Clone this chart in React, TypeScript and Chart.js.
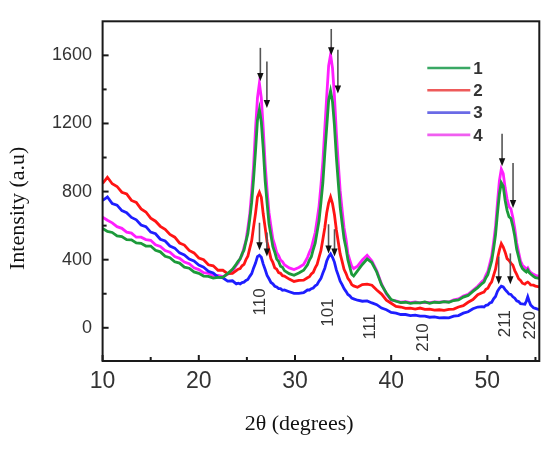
import React, { useEffect, useRef } from "react";
import { Chart, registerables } from "chart.js";

Chart.register(...registerables);

// 2θ positions (degrees)
const twoTheta = [
  10, 10.5, 11, 11.5, 12, 12.5, 13, 13.5, 14, 14.5, 15, 15.5, 16, 16.5, 17, 17.5, 18, 18.5, 19, 19.5, 20, 20.5, 21, 21.5, 22, 22.5, 23, 23.5,
  23.9, 24.1, 24.3, 24.5, 24.7, 24.9, 25.1, 25.3, 25.5, 25.7, 25.9, 26.1, 26.3, 26.5, 26.7, 26.9, 27.1, 27.3, 27.5, 27.7, 27.9, 28.1, 28.3, 28.5, 28.7, 28.9,
  29.4, 29.9, 30.4, 30.9,
  31.3, 31.5, 31.7, 31.9, 32.1, 32.3, 32.5, 32.7, 32.9, 33.1, 33.3, 33.5, 33.7, 33.9, 34.1, 34.3, 34.5, 34.7, 34.9, 35.1, 35.3, 35.5, 35.7, 35.9, 36.1,
  36.5, 37, 37.5, 38, 38.5, 39, 39.5, 40, 40.5, 41, 41.5, 42, 42.5, 43, 43.5, 44, 44.5, 45, 45.5, 46, 46.5, 47, 47.5, 48, 48.5, 49,
  49.45, 49.65, 49.85, 50.05, 50.25, 50.45, 50.65, 50.85, 51.05, 51.25, 51.45, 51.65, 51.85, 52.05, 52.25, 52.45, 52.65, 52.85, 53.05, 53.25, 53.45, 53.65,
  53.9, 54.05, 54.2, 54.35, 54.5, 54.8, 55.0, 55.4,
];

// sample 1 (green)
const series1 = [
  584, 566, 560, 540, 536, 518, 516, 498, 496, 480, 480, 455, 446, 420, 412, 388, 380, 356, 350, 328, 320, 304, 302, 292, 296, 296, 318, 344,
  374, 392, 404, 434, 456, 506, 552, 640, 738, 878, 1040, 1220, 1282, 1208, 1052, 864, 732, 610, 544, 476, 444, 404, 390, 362, 356, 336,
  318, 308, 322, 338,
  370, 398, 418, 460, 497, 562, 628, 736, 852, 1022, 1180, 1336, 1390, 1328, 1190, 1004, 852, 708, 614, 524, 470, 400, 356, 314, 304,
  334, 372, 404, 382, 328, 252, 204, 166, 156, 148, 150, 144, 148, 146, 152, 144, 150, 148, 154, 150, 160, 164, 180, 190, 214, 236,
  260, 268, 294, 312, 352, 392, 464, 546, 672, 784, 852, 832, 748, 690, 652, 642, 596, 538, 462, 416, 370, 348,
  334, 328, 340, 324, 316, 302, 294, 290,
];

// sample 2 (red)
const series2 = [
  848, 884, 846, 830, 796, 786, 748, 736, 698, 680, 644, 626, 596, 578, 548, 532, 498, 486, 454, 440, 410, 400, 370, 364, 338, 338, 318, 320,
  336, 344, 348, 364, 372, 400, 420, 466, 512, 594, 672, 768, 796, 766, 668, 588, 504, 456, 406, 384, 352, 344, 324, 320, 306, 304,
  286, 272, 278, 280,
  294, 300, 316, 326, 352, 372, 414, 454, 520, 588, 674, 734, 768, 730, 666, 576, 504, 434, 390, 344, 320, 290, 276, 254, 246,
  238, 254, 256, 250, 222, 198, 162, 144, 126, 122, 114, 116, 110, 116, 108, 110, 104, 106, 102, 108, 110, 122, 130, 150, 166, 194,
  206, 210, 226, 232, 254, 270, 308, 344, 406, 456, 494, 474, 444, 406, 396, 380, 368, 336, 314, 288, 278, 262,
  256, 264, 268, 262, 252, 250, 244, 240,
];

// sample 3 (blue)
const series3 = [
  748, 768, 730, 720, 688, 676, 648, 634, 604, 594, 562, 552, 520, 510, 480, 468, 440, 428, 404, 392, 368, 356, 332, 322, 298, 294, 274, 276,
  258, 262, 258, 266, 268, 278, 284, 302, 318, 352, 380, 418, 426, 414, 374, 342, 308, 288, 266, 258, 244, 240, 230, 230, 220, 222,
  212, 202, 202, 206,
  222, 222, 230, 234, 246, 254, 274, 290, 322, 350, 392, 418, 434, 414, 386, 340, 308, 274, 254, 230, 214, 196, 188, 174, 170,
  162, 156, 158, 146, 136, 116, 106, 90, 86, 78, 78, 72, 74, 68, 68, 62, 64, 58, 60, 58, 68, 72, 86, 94, 112, 122,
  124, 122, 132, 134, 146, 150, 170, 184, 214, 232, 244, 240, 224, 212, 198, 196, 182, 174, 158, 154, 142, 140,
  138, 156, 182, 156, 134, 118, 114, 106,
];

// sample 4 (magenta)
const series4 = [
  650, 632, 616, 594, 584, 562, 556, 532, 532, 518, 514, 488, 478, 454, 444, 418, 408, 386, 376, 352, 342, 324, 320, 306, 308, 300, 314, 330,
  368, 382, 408, 428, 472, 512, 586, 668, 800, 956, 1170, 1350, 1436, 1350, 1172, 960, 808, 676, 596, 522, 486, 442, 424, 398, 388, 370,
  352, 342, 354, 372,
  414, 444, 468, 514, 558, 634, 712, 838, 978, 1170, 1360, 1540, 1604, 1526, 1362, 1146, 968, 804, 692, 588, 522, 436, 398, 362, 348,
  362, 398, 426, 392, 334, 258, 198, 162, 158, 150, 154, 148, 152, 146, 150, 148, 152, 150, 154, 152, 164, 170, 186, 196, 220, 244,
  272, 282, 310, 332, 376, 422, 502, 596, 734, 862, 932, 906, 822, 756, 712, 698, 648, 582, 498, 444, 392, 368,
  354, 344, 352, 336, 326, 314, 308, 302,
];

const seriesNames = ["1", "2", "3", "4"];
const seriesColors = ["#1c9a3a", "#ff1414", "#1e1eff", "#ff1eff"];
const legendColors = ["#3aa864", "#ee5a5a", "#6a6ae6", "#f05ef0"];

const xTicks = [10, 20, 30, 40, 50];
const xMinorTicks = [15, 25, 35, 45, 55];
const yTicks = [0, 400, 800, 1200, 1600];
const yMinorTicks = [200, 600, 1000, 1400];

// reflection labels (hkl)
const peakLabels = ["110", "101", "111", "210", "211", "220"];
const peakLabelX = [26.38, 33.46, 37.85, 43.37, 51.87, 54.47];
const peakLabelY = [152, 89, 7, -57, 24, 15];

// arrows: position, start value, tip value
const arrowX = [26.4, 27.08, 33.77, 34.46, 51.53, 52.67, 26.31, 27.08, 33.49, 34.11, 51.18, 52.39];
const arrowFrom = [1644, 1564, 1755, 1633, 1139, 968, 617, 560, 608, 579, 418, 437];
const arrowTo = [1450, 1291, 1600, 1376, 949, 703, 456, 418, 437, 418, 256, 256];

const SANS = '"Liberation Sans", Arial, sans-serif';
const SERIF = '"Liberation Serif", "Times New Roman", serif';

const decorPlugin = {
  id: "decor",
  afterDatasetsDraw(chart: any) {
    const { ctx, chartArea: ca, scales } = chart;
    const xs = scales.x;
    const ys = scales.y;
    ctx.save();

    // frame
    ctx.strokeStyle = "#1a1a1a";
    ctx.lineWidth = 2;
    ctx.strokeRect(ca.left, ca.top, ca.right - ca.left, ca.bottom - ca.top);

    // inward tick marks
    ctx.lineWidth = 2;
    const tick = (v: number, len: number, axis: "x" | "y") => {
      ctx.beginPath();
      if (axis === "x") {
        const p = xs.getPixelForValue(v);
        if (p < ca.left - 0.5 || p > ca.right + 0.5) return;
        ctx.moveTo(p, ca.bottom);
        ctx.lineTo(p, ca.bottom - len);
      } else {
        const p = ys.getPixelForValue(v);
        if (p < ca.top - 0.5 || p > ca.bottom + 0.5) return;
        ctx.moveTo(ca.left, p);
        ctx.lineTo(ca.left + len, p);
      }
      ctx.stroke();
    };
    xTicks.forEach((v) => tick(v, 6, "x"));
    xMinorTicks.forEach((v) => tick(v, 4, "x"));
    yTicks.forEach((v) => tick(v, 6, "y"));
    yMinorTicks.forEach((v) => tick(v, 4, "y"));

    // arrows
    for (let i = 0; i < arrowX.length; i++) {
      const px = xs.getPixelForValue(arrowX[i]);
      const y0 = ys.getPixelForValue(arrowFrom[i]);
      const y1 = ys.getPixelForValue(arrowTo[i]);
      const head = 8;
      const hw = 3.2;
      ctx.strokeStyle = "#555";
      ctx.lineWidth = 1.6;
      ctx.beginPath();
      ctx.moveTo(px, y0);
      ctx.lineTo(px, y1 - head + 1);
      ctx.stroke();
      ctx.fillStyle = "#111";
      ctx.beginPath();
      ctx.moveTo(px - hw, y1 - head);
      ctx.lineTo(px + hw, y1 - head);
      ctx.lineTo(px, y1);
      ctx.closePath();
      ctx.fill();
    }

    // hkl labels (rotated)
    ctx.fillStyle = "#333";
    ctx.font = `17px ${SANS}`;
    ctx.textAlign = "center";
    ctx.textBaseline = "middle";
    for (let i = 0; i < peakLabels.length; i++) {
      const px = xs.getPixelForValue(peakLabelX[i]);
      const py = ys.getPixelForValue(peakLabelY[i]);
      ctx.save();
      ctx.translate(px, py);
      ctx.rotate(-Math.PI / 2);
      ctx.fillText(peakLabels[i], 0, 0);
      ctx.restore();
    }

    // legend
    ctx.font = `bold 17px ${SANS}`;
    ctx.textAlign = "left";
    ctx.textBaseline = "middle";
    for (let i = 0; i < seriesNames.length; i++) {
      const ly = ca.top + 46.7 + i * 22.3;
      ctx.strokeStyle = legendColors[i];
      ctx.lineWidth = 2.6;
      ctx.beginPath();
      ctx.moveTo(ca.right - 112, ly);
      ctx.lineTo(ca.right - 69, ly);
      ctx.stroke();
      ctx.fillStyle = "#333";
      ctx.fillText(seriesNames[i], ca.right - 66, ly + 1);
    }

    // axis titles
    ctx.fillStyle = "#111";
    ctx.font = `22px ${SERIF}`;
    ctx.textAlign = "center";
    ctx.textBaseline = "middle";
    ctx.fillText("2θ (degrees)", ca.left + 196.5, ca.bottom + 63);
    ctx.save();
    ctx.translate(18, ca.top + 187);
    ctx.rotate(-Math.PI / 2);
    ctx.fillText("Intensity (a.u)", 0, 0);
    ctx.restore();

    ctx.restore();
  },
};

export default function App() {
  const canvasRef = useRef<HTMLCanvasElement | null>(null);

  useEffect(() => {
    document.body.style.margin = "0";
    const canvas = canvasRef.current;
    if (!canvas) return;
    const allSeries = [series1, series2, series3, series4];
    const chart = new Chart(canvas, {
      type: "line",
      data: {
        datasets: allSeries.map((s, i) => ({
          label: seriesNames[i],
          data: twoTheta.map((t, j) => ({ x: t, y: s[j] })),
          borderColor: seriesColors[i],
          backgroundColor: seriesColors[i],
          borderWidth: 2.8,
          pointRadius: 0,
          tension: 0,
          fill: false,
        })),
      },
      options: {
        animation: false,
        responsive: false,
        devicePixelRatio: window.devicePixelRatio || 1,
        layout: { padding: { top: 11, right: 10.7, left: 0, bottom: 0 } },
        plugins: {
          legend: { display: false },
          tooltip: { enabled: false },
          title: { display: false },
        },
        scales: {
          x: {
            type: "linear",
            min: 10,
            max: 55.4,
            grid: { display: false, drawTicks: false },
            border: { display: false },
            afterBuildTicks: (scale: any) => {
              scale.ticks = xTicks.map((v) => ({ value: v }));
            },
            afterFit: (scale: any) => {
              scale.height = 88;
            },
            ticks: {
              autoSkip: false,
              maxRotation: 0,
              padding: 7,
              color: "#333",
              font: { family: SANS, size: 23 },
              callback: (v: any) => String(v),
            },
          },
          y: {
            type: "linear",
            min: -195,
            max: 1800,
            grid: { display: false, drawTicks: false },
            border: { display: false },
            afterBuildTicks: (scale: any) => {
              scale.ticks = yTicks.map((v) => ({ value: v }));
            },
            afterFit: (scale: any) => {
              scale.width = 102.6;
            },
            ticks: {
              autoSkip: false,
              padding: 10.5,
              color: "#333",
              font: { family: SANS, size: 18 },
              callback: (v: any) => String(v),
            },
          },
        },
      },
      plugins: [decorPlugin],
    });
    return () => chart.destroy();
  }, []);

  return (
    <div style={{ width: 550, height: 449, background: "#fff" }}>
      <canvas ref={canvasRef} width={550} height={449} style={{ display: "block" }} />
    </div>
  );
}
